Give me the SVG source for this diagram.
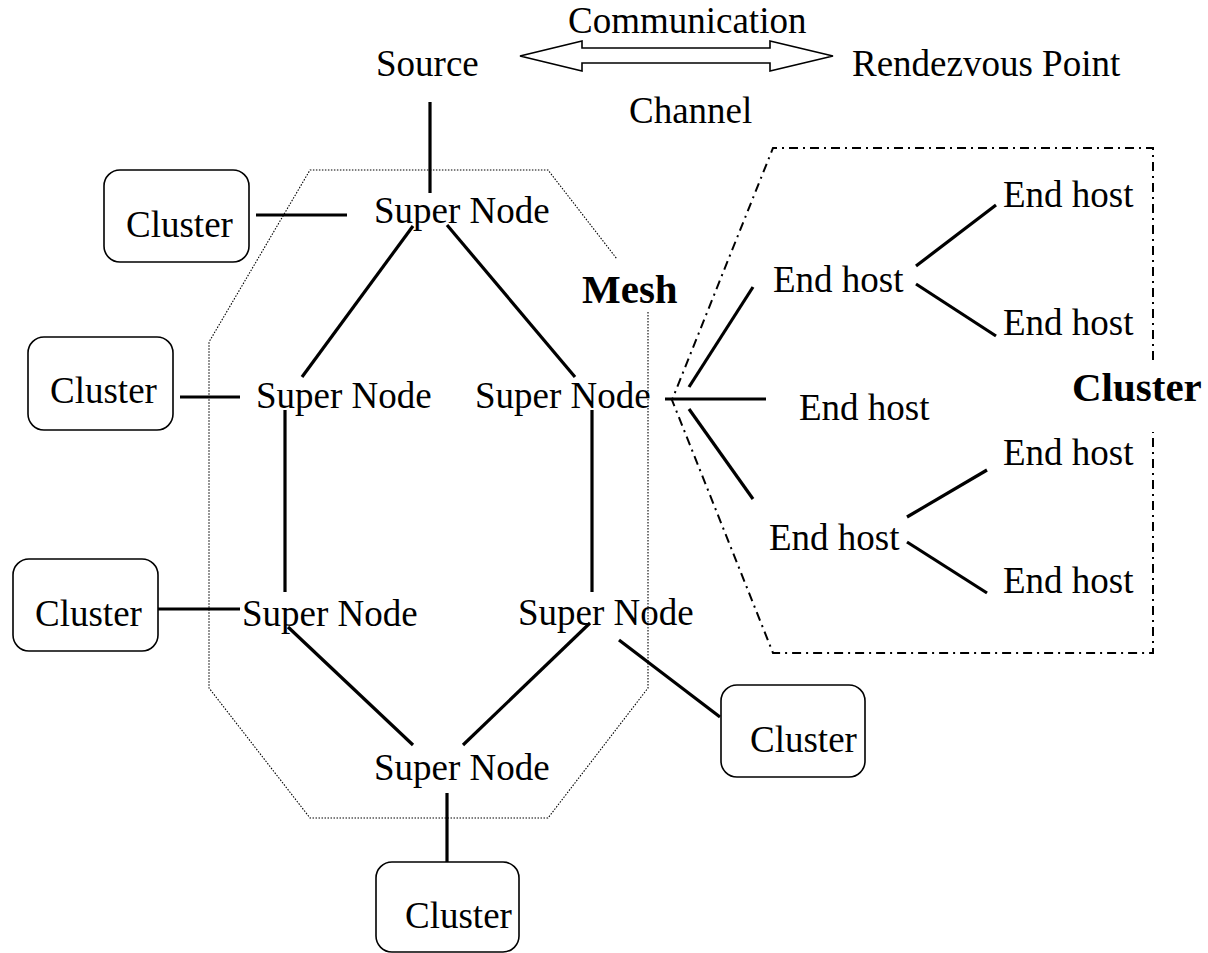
<svg xmlns="http://www.w3.org/2000/svg" width="1208" height="953" viewBox="0 0 1208 953">
<style>
text{font-family:"Liberation Serif","Times New Roman",serif;font-size:37px;fill:#000}
.b{font-weight:bold;font-size:41px}
.box{fill:#fff;stroke:#000;stroke-width:1.6}
.ln{stroke:#000;stroke-width:3.2;fill:none}
.mesh{fill:none;stroke:#000;stroke-width:1.1;stroke-dasharray:1.5 1.5}
.dd{fill:none;stroke:#000;stroke-width:2;stroke-dasharray:9 5 2 5}
</style>
<rect width="1208" height="953" fill="#fff"/>
<g id="regions">
<path class="mesh" d="M648,312 L648,688 L548,818 L310,818 L209,688 L209,342 L310,170 L548,170 L617,259"/>
<path class="dd" d="M1153,360 L1153,148 L773,148 L672,400 L773,653 L1153,653 L1153,432"/>
<text class="b" x="582" y="303">Mesh</text>
<text class="b" x="1072" y="401">Cluster</text>
</g>
<g id="connectors">
<polygon points="520,56 582,41 582,48 770,48 770,41 833,56 770,71 770,63 582,63 582,71" fill="#fff" stroke="#000" stroke-width="1.6"/>
<line class="ln" x1="430" y1="102" x2="430" y2="193"/>
<line class="ln" x1="256" y1="215" x2="347" y2="215"/>
<line class="ln" x1="413" y1="226" x2="302" y2="377"/>
<line class="ln" x1="447" y1="225" x2="575" y2="377"/>
<line class="ln" x1="180" y1="397" x2="240" y2="397"/>
<line class="ln" x1="285" y1="410" x2="285" y2="592"/>
<line class="ln" x1="592" y1="410" x2="592" y2="592"/>
<line class="ln" x1="151" y1="609" x2="240" y2="609"/>
<line class="ln" x1="288" y1="627" x2="413" y2="745"/>
<line class="ln" x1="590" y1="623" x2="463" y2="745"/>
<line class="ln" x1="619" y1="640" x2="720" y2="717"/>
<line class="ln" x1="447" y1="793" x2="447" y2="863"/>
<line class="ln" x1="689" y1="387" x2="753" y2="287"/>
<line class="ln" x1="665" y1="399" x2="766" y2="399"/>
<line class="ln" x1="689" y1="409" x2="753" y2="499"/>
<line class="ln" x1="916" y1="266" x2="996" y2="205"/>
<line class="ln" x1="916" y1="284" x2="996" y2="336"/>
<line class="ln" x1="907" y1="517" x2="987" y2="470"/>
<line class="ln" x1="907" y1="542" x2="987" y2="593"/>
</g>
<g id="labels">
<text x="568" y="33">Communication</text>
<text x="629" y="123">Channel</text>
</g>
<g id="source"><text x="376" y="76">Source</text></g>
<g id="rendezvous"><text x="852" y="76">Rendezvous Point</text></g>
<g id="sn-top"><text x="374" y="223">Super Node</text></g>
<g id="sn-left-mid"><text x="256" y="408">Super Node</text></g>
<g id="sn-right-mid"><text x="475" y="408">Super Node</text></g>
<g id="sn-left-low"><text x="242" y="626">Super Node</text></g>
<g id="sn-right-low"><text x="518" y="625">Super Node</text></g>
<g id="sn-bottom"><text x="374" y="780">Super Node</text></g>
<g id="cluster1"><rect class="box" x="104" y="170" width="145" height="92" rx="16"/><text x="126" y="237">Cluster</text></g>
<g id="cluster2"><rect class="box" x="28" y="337" width="145" height="93" rx="16"/><text x="50" y="403">Cluster</text></g>
<g id="cluster3"><rect class="box" x="13" y="559" width="145" height="92" rx="16"/><text x="35" y="626">Cluster</text></g>
<g id="cluster4"><rect class="box" x="721" y="685" width="144" height="92" rx="16"/><text x="750" y="752">Cluster</text></g>
<g id="cluster5"><rect class="box" x="376" y="862" width="143" height="90" rx="16"/><text x="405" y="928">Cluster</text></g>
<g id="eh-upper"><text x="773" y="292">End host</text></g>
<g id="eh-mid"><text x="799" y="420">End host</text></g>
<g id="eh-lower"><text x="769" y="550">End host</text></g>
<g id="eh-r1"><text x="1003" y="207">End host</text></g>
<g id="eh-r2"><text x="1003" y="335">End host</text></g>
<g id="eh-r3"><text x="1003" y="465">End host</text></g>
<g id="eh-r4"><text x="1003" y="593">End host</text></g>
</svg>
